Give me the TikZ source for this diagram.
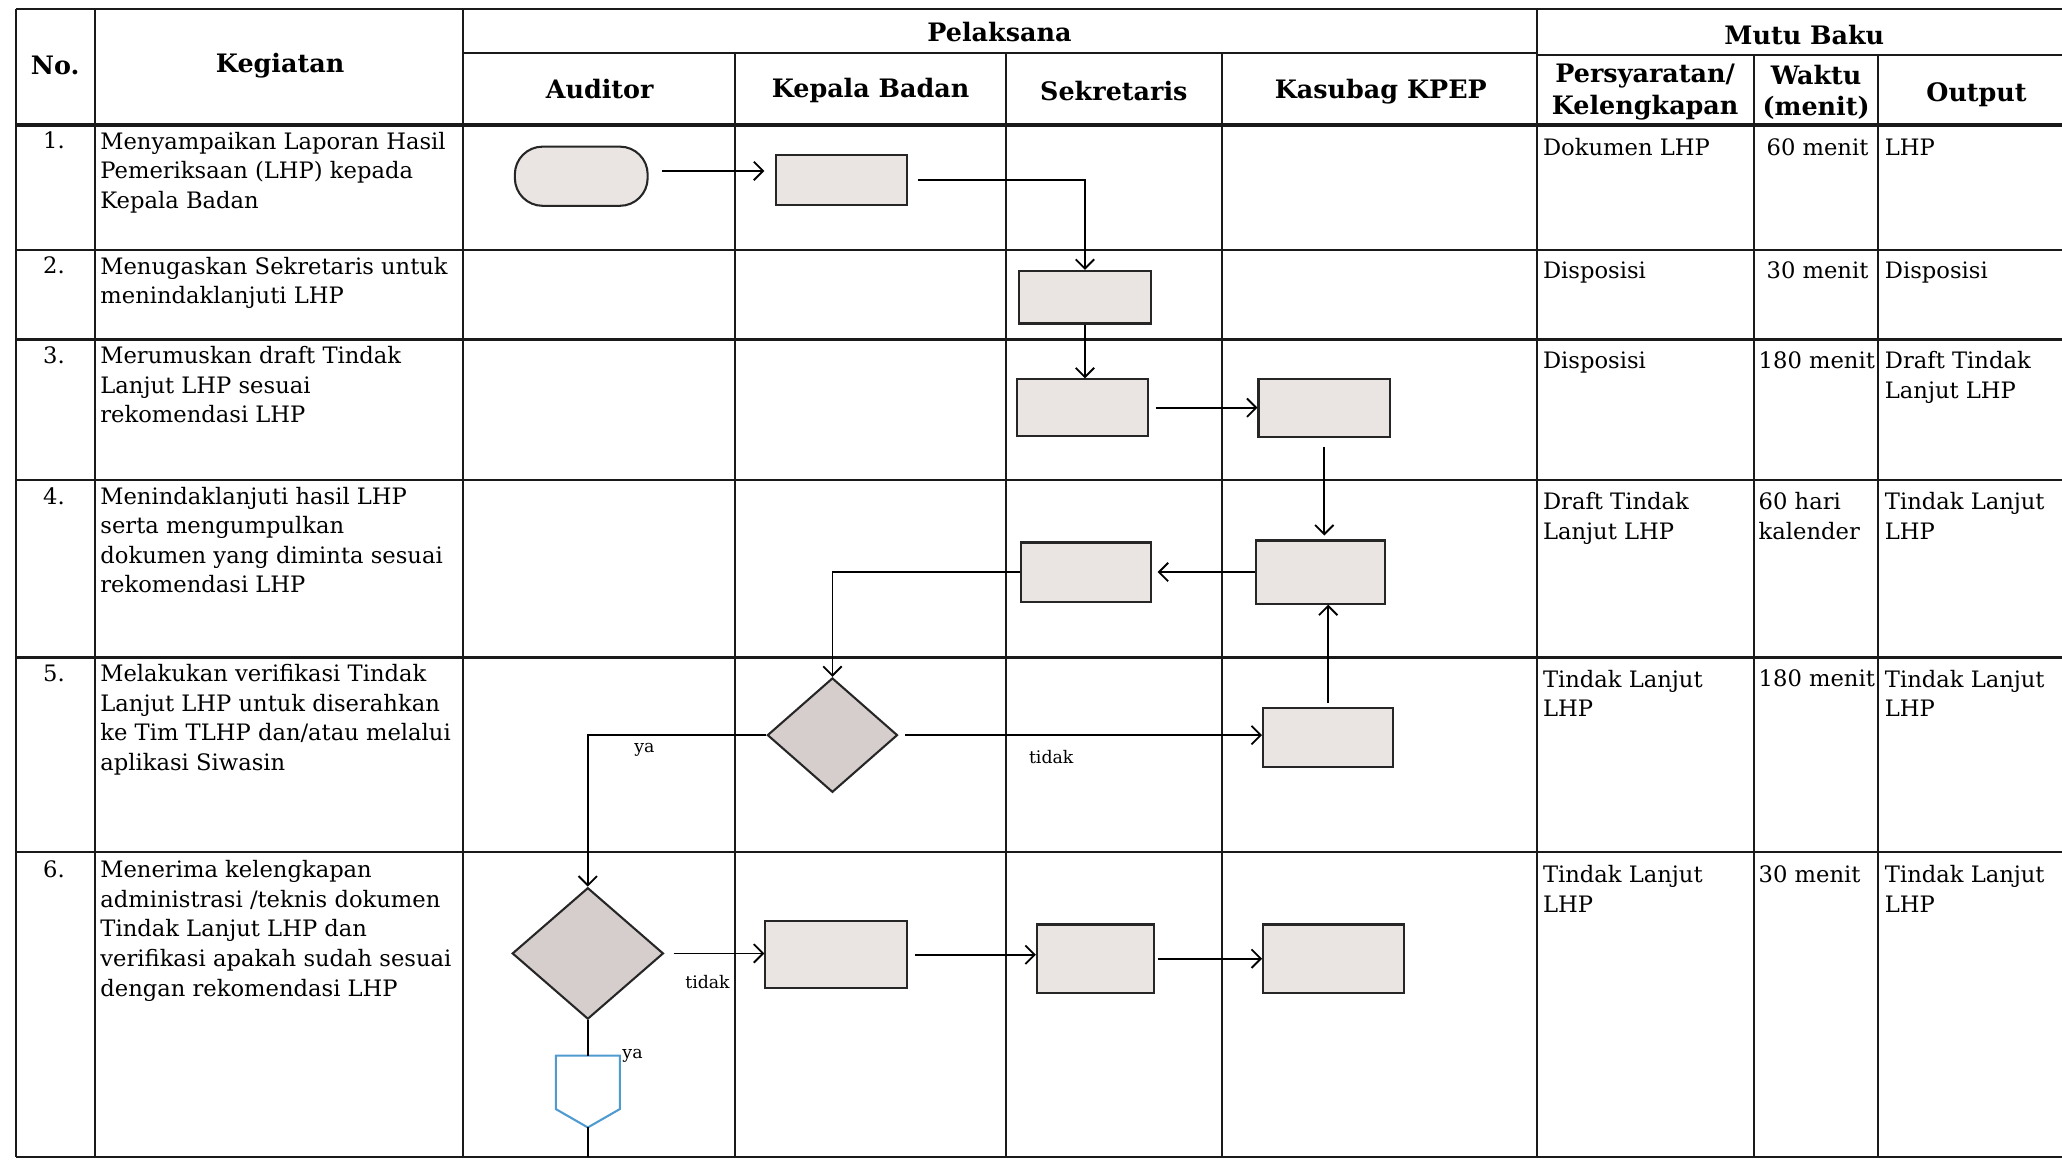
\documentclass[tikz,border=0pt]{standalone}
\usepackage{fontspec}
\setmainfont{DejaVu Serif}
\usetikzlibrary{arrows.meta,shapes.geometric}
\definecolor{boxfill}{HTML}{EAE5E3}
\definecolor{diafill}{HTML}{D5CECC}
\definecolor{conblue}{HTML}{4F9BD0}
\definecolor{linec}{HTML}{1A1A1A}
\begin{document}
\begin{tikzpicture}[x=0.02cm,y=-0.02cm,
  grid/.style={line width=0.9pt, draw=linec},
  hdr/.style={font=\fontsize{11}{13.5}\selectfont\bfseries, align=center, inner sep=0},
  body/.style={font=\fontsize{9.8}{12.8}\selectfont, align=left, anchor=north west, inner sep=0},
  num/.style={font=\fontsize{9.8}{12.8}\selectfont, inner sep=0},
  proc/.style={draw=black!85, line width=0.9pt, fill=boxfill, inner sep=0},
  dec/.style={shape=diamond, draw=black!85, line width=0.9pt, fill=diafill, inner sep=0},
  arr/.style={-{Straight Barb[length=4pt,width=8pt]}, line width=0.8pt},
  lbl/.style={font=\fontsize{7.5}{9}\selectfont, inner sep=0},
]
\useasboundingbox (0,0) rectangle (1568,883);
% ---------- table ----------
\draw[grid] (12,7) -- (1568,7);
\draw[grid] (352,40) -- (1169,40);
\draw[grid] (1169,42) -- (1568,42);
\draw[grid,line width=2pt] (12,95) -- (1568,95);
\foreach \yy in {190,258,365,500,648}{\draw[grid,line width=1.1pt] (12,\yy) -- (1568,\yy);}
\draw[grid] (12,880) -- (1568,880);
\foreach \xx in {12,72,352,1169}{\draw[grid] (\xx,7) -- (\xx,880);}
\foreach \xx in {559,765,929}{\draw[grid] (\xx,40) -- (\xx,880);}
\foreach \xx in {1334,1428}{\draw[grid] (\xx,42) -- (\xx,880);}
% ---------- header ----------
\node[hdr] (hno) at (42,50) {No.};
\node[hdr] (hkeg) at (213,50) {Kegiatan};
\node[hdr] (hpel) at (760,24) {Pelaksana};
\node[hdr] (hmutu) at (1372,27) {Mutu Baku};
\node[hdr] (haud) at (456,68) {Auditor};
\node[hdr] (hkep) at (662,69) {Kepala Badan};
\node[hdr] (hsek) at (847,69) {Sekretaris};
\node[hdr] (hkas) at (1050,70) {Kasubag KPEP};
\node[hdr] (hper) at (1251,70) {Persyaratan/\\Kelengkapan};
\node[hdr] (hwak) at (1381,70) {Waktu\\(menit)};
\node[hdr] (hout) at (1503,72) {Output};
% ---------- numbers ----------
\node[num] (n1) at (41,107) {1.};
\node[num] (n2) at (41,202) {2.};
\node[num] (n3) at (41,270) {3.};
\node[num] (n4) at (41,377) {4.};
\node[num] (n5) at (41,512) {5.};
\node[num] (n6) at (41,661) {6.};
% ---------- kegiatan ----------
\node[body] (k1) at (76,100) {Menyampaikan Laporan Hasil\\Pemeriksaan (LHP) kepada\\Kepala Badan};
\node[body] (k2) at (76,195) {Menugaskan Sekretaris untuk\\menindaklanjuti LHP};
\node[body] (k3) at (76,263) {Merumuskan draft Tindak\\Lanjut LHP sesuai\\rekomendasi LHP};
\node[body] (k4) at (76,370) {Menindaklanjuti hasil LHP\\serta mengumpulkan\\dokumen yang diminta sesuai\\rekomendasi LHP};
\node[body] (k5) at (76,505) {Melakukan verifikasi Tindak\\Lanjut LHP untuk diserahkan\\ke Tim TLHP dan/atau melalui\\aplikasi Siwasin};
\node[body] (k6) at (76,654) {Menerima kelengkapan\\administrasi /teknis dokumen\\Tindak Lanjut LHP dan\\verifikasi apakah sudah sesuai\\dengan rekomendasi LHP};
% ---------- mutu baku ----------
\node[body] (p1) at (1173,105) {Dokumen LHP};
\node[body] (w1) at (1343,105) {60 menit};
\node[body] (o1) at (1433,105) {LHP};
\node[body] (p2) at (1173,199) {Disposisi};
\node[body] (w2) at (1343,199) {30 menit};
\node[body] (o2) at (1433,199) {Disposisi};
\node[body] (p3) at (1173,267) {Disposisi};
\node[body] (w3) at (1337,267) {180 menit};
\node[body] (o3) at (1433,267) {Draft Tindak\\Lanjut LHP};
\node[body] (p4) at (1173,374) {Draft Tindak\\Lanjut LHP};
\node[body] (w4) at (1337,374) {60 hari\\kalender};
\node[body] (o4) at (1433,374) {Tindak Lanjut\\LHP};
\node[body] (p5) at (1173,509) {Tindak Lanjut\\LHP};
\node[body] (w5) at (1337,509) {180 menit};
\node[body] (o5) at (1433,509) {Tindak Lanjut\\LHP};
\node[body] (p6) at (1173,658) {Tindak Lanjut\\LHP};
\node[body] (w6) at (1337,658) {30 menit};
\node[body] (o6) at (1433,658) {Tindak Lanjut\\LHP};
% ---------- flow shapes ----------
\node[proc, rounded corners=12pt, minimum width=2.02cm, minimum height=0.9cm] (term) at (442,134) {};
\node[proc, minimum width=2.0cm, minimum height=0.76cm] (A) at (640,137) {};
\node[proc, minimum width=2.0cm, minimum height=0.8cm] (B) at (825,226) {};
\node[proc, minimum width=2.0cm, minimum height=0.86cm] (C) at (823,310) {};
\node[proc, minimum width=2.0cm, minimum height=0.88cm] (D) at (1007,310) {};
\node[proc, minimum width=1.96cm, minimum height=0.96cm] (E) at (1004,435) {};
\node[proc, minimum width=1.98cm, minimum height=0.9cm] (F) at (826,435) {};
\node[dec, minimum width=1.98cm, minimum height=1.74cm] (D1) at (633,559) {};
\node[proc, minimum width=1.98cm, minimum height=0.9cm] (G) at (1010,561) {};
\node[dec, minimum width=2.3cm, minimum height=2.0cm] (D2) at (447,725) {};
\node[proc, minimum width=2.16cm, minimum height=1.02cm] (H) at (636,726) {};
\node[proc, minimum width=1.78cm, minimum height=1.04cm] (I) at (833,729) {};
\node[proc, minimum width=2.14cm, minimum height=1.04cm] (J) at (1014,729) {};
% off-page connector
\node[inner sep=0, minimum width=0.96cm, minimum height=1.08cm] (cn) at (447,830) {};
\draw[conblue, line width=0.9pt, fill=white]
  (cn.north west) -- (cn.north east) -- ([yshift=0.28cm]cn.south east) -- (cn.south) -- ([yshift=0.28cm]cn.south west) -- cycle;
\coordinate (bot) at (447,880);
% ---------- connectors ----------
\draw[arr, shorten <=0.2cm, shorten >=0.16cm] ([yshift=0.08cm]term.east) -- ([yshift=0.08cm]term.east -| A.west);
\draw[arr, shorten <=0.14cm] (A.east) -| (B.north);
\draw[arr] (B.south) -- (B.south |- C.north);
\draw[arr, shorten <=0.1cm] (C.east) -- (C.east -| D.west);
\draw[arr, shorten <=0.14cm, shorten >=0.06cm] (D.south) -- (D.south |- E.north);
\draw[arr, shorten >=0.08cm] (E.west) -- (E.west -| F.east);
\draw[arr] (F.west) -| (D1.north);
\draw[arr, shorten <=0.1cm] (D1.east) -- (D1.east -| G.west) node[lbl, pos=0.42, below=6pt] (t1) {tidak};
\draw[arr, shorten <=0.06cm] (G.north) -- (G.north |- E.south);
\draw[arr] (D1.west) -| (D2.north);
\node[lbl] (y1) at (490,570) {ya};
\draw[arr, shorten <=0.14cm] (D2.east) -- (D2.east -| H.west);
\node[lbl] (t2) at (538,747) {tidak};
\draw[arr, shorten <=0.1cm] (H.east) -- (H.east -| I.west);
\draw[arr, shorten <=0.04cm] (I.east) -- (I.east -| J.west);
\draw[line width=0.8pt] (D2.south) -- (cn.north);
\node[lbl] (y2) at (481,803) {ya};
\draw[line width=0.8pt] (cn.south) -- (bot);
\end{tikzpicture}
\end{document}
